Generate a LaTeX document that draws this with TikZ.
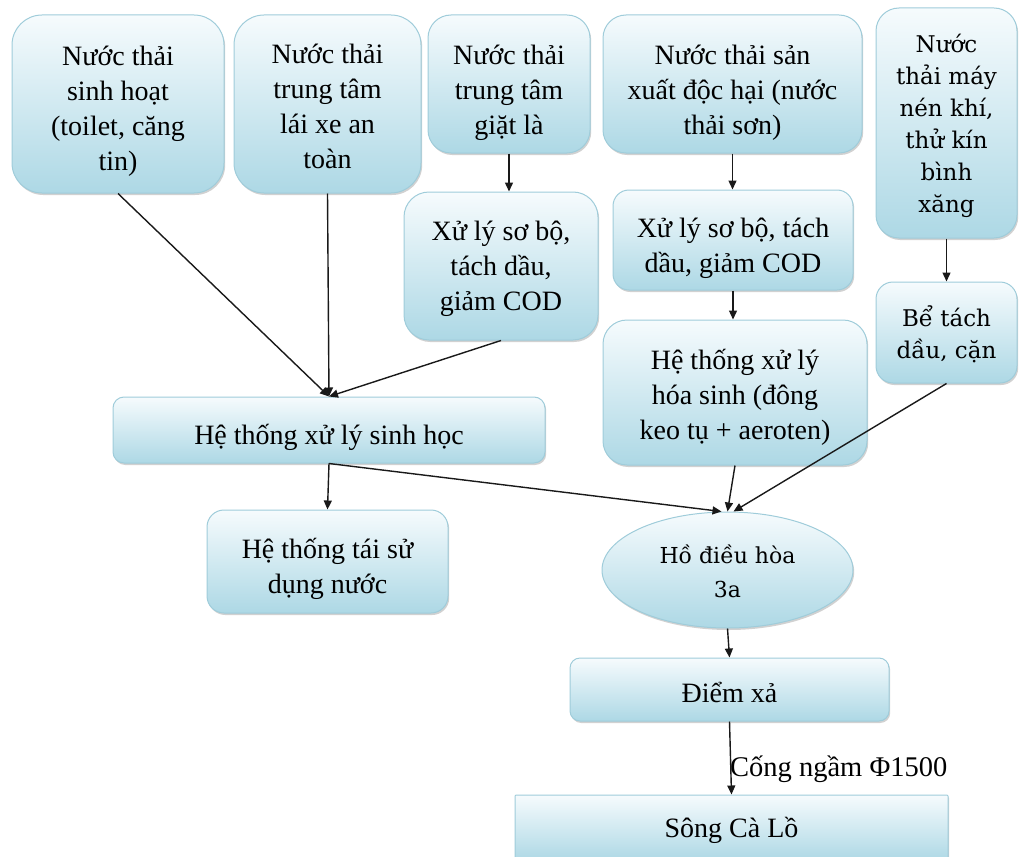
\documentclass[tikz,border=0pt]{standalone}
\usepackage{fontspec}
\setmainfont{Liberation Serif}
\newfontfamily\camfont{DejaVu Serif}
\usetikzlibrary{arrows.meta,shadows,shapes.geometric}
\definecolor{boxtop}{HTML}{F6FBFD}
\definecolor{boxbot}{HTML}{ADD8E5}
\definecolor{boxline}{HTML}{9FCCDA}
% centred lines of text, drawn a little below the middle of their box
\newcommand{\txt}[2][6pt]{\raisebox{-#1}[\height][\depth]{\begin{tabular}{@{}c@{}}#2\end{tabular}}}
\tikzset{
  box/.style={draw=boxline, line width=1pt, top color=boxtop, bottom color=boxbot,
    inner sep=0pt, text=black,
    font=\fontsize{28}{35}\selectfont,
    drop shadow={shadow xshift=1.2pt, shadow yshift=-2pt, opacity=0.3, fill=black!60}},
  camtext/.style={font=\camfont\fontsize{23}{32}\selectfont},
  conn/.style={-{Triangle[length=9pt,width=8pt]}, line width=1.4pt, black!90},
}
\begin{document}
\begin{tikzpicture}[x=1pt,y=-1pt]
\useasboundingbox (0,0) rectangle (1019,856);
\begin{scope}
\clip (0,0) rectangle (1019,856);

% sources
\node (A) [box, minimum width=212pt, minimum height=178pt, rounded corners=30pt] at (118,104)
  {\txt[7pt]{Nước thải\\sinh hoạt\\(toilet, căng\\tin)}};
\node (B) [box, minimum width=187pt, minimum height=178pt, rounded corners=30pt] at (327.5,104)
  {\txt[5pt]{Nước thải\\trung tâm\\lái xe an\\toàn}};
\node (C) [box, minimum width=162pt, minimum height=138pt, rounded corners=23pt] at (509,84)
  {\txt[9pt]{Nước thải\\trung tâm\\giặt là}};
\node (D) [box, minimum width=259pt, minimum height=138pt, rounded corners=23pt] at (732.5,84)
  {\txt[9pt]{Nước thải sản\\xuất độc hại (nước\\thải sơn)}};
\node (E) [box, camtext, minimum width=141pt, minimum height=230pt, rounded corners=23pt] at (946.5,123)
  {\txt[3pt]{Nước\\thải máy\\nén khí,\\thử kín\\bình\\xăng}};

% pre-treatment
\node (F) [box, minimum width=194pt, minimum height=148pt, rounded corners=25pt] at (501,266)
  {\txt[2pt]{Xử lý sơ bộ,\\tách dầu,\\giảm COD}};
\node (G) [box, minimum width=240pt, minimum height=100pt, rounded corners=16pt] at (733,240)
  {\txt[8pt]{Xử lý sơ bộ, tách\\dầu, giảm COD}};
\node (H) [box, minimum width=264pt, minimum height=145pt, rounded corners=24pt] at (735,392.5)
  {\txt[5pt]{Hệ thống xử lý\\hóa sinh (đông\\keo tụ + aeroten)}};
\node (I) [box, camtext, minimum width=141pt, minimum height=101pt, rounded corners=17pt] at (946.5,332.5)
  {\txt[4pt]{Bể tách\\dầu, cặn}};

% treatment and discharge
\node (J) [box, minimum width=432pt, minimum height=66pt, rounded corners=11pt] at (329,430)
  {\txt[7pt]{Hệ thống xử lý sinh học}};
\node (K) [box, minimum width=241pt, minimum height=103pt, rounded corners=17pt] at (327.5,561.5)
  {\txt[7pt]{Hệ thống tái sử\\dụng nước}};
\node (L) [box, ellipse, font=\camfont\fontsize{22}{34}\selectfont,
  minimum width=251pt, minimum height=116pt] at (727.5,570)
  {\txt[4pt]{Hồ điều hòa\\3a}};
\node (M) [box, minimum width=319pt, minimum height=63pt, rounded corners=10pt] at (729.5,689.5)
  {\txt[6pt]{Điểm xả}};
\node (N) [box, minimum width=433pt, minimum height=66pt, rounded corners=1pt] at (731.5,828)
  {\txt[2pt]{Sông Cà Lồ}};

% connectors
\draw[conn] (A.south) -- (J.north);
\draw[conn] (B.south) -- (J.north);
\draw[conn] (F.south) -- (J.north);
\draw[conn] (C.south) -- (F.north -| C.south);
\draw[conn] (D.south) -- (G.north -| D.south);
\draw[conn] (G.south) -- (H.north -| G.south);
\draw[conn] (E.south) -- (I.north);
\draw[conn] (J.south) -- (K.north);
\draw[conn] (J.south) -- ([xshift=-6pt]L.north);
\draw[conn] (H.south) -- (L.north);
\draw[conn] (I.south) -- ([xshift=6pt]L.north);
\draw[conn] (L.south) -- (M.north);
\draw[conn] (M.south) -- (N.north);

\node (lab) [anchor=base west, inner sep=0pt, font=\fontsize{28.5}{32}\selectfont] at (730,776)
  {Cống ngầm Φ1500};
\end{scope}
\end{tikzpicture}
\end{document}
